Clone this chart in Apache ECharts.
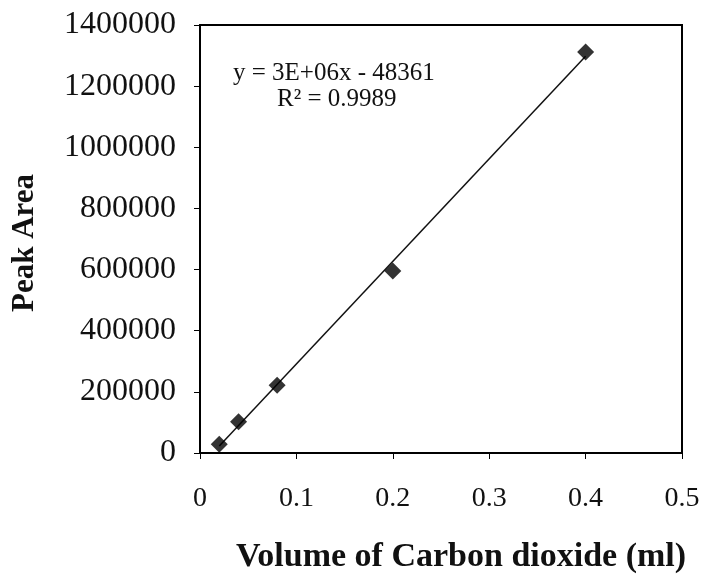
<!DOCTYPE html>
<html>
<head>
<meta charset="utf-8">
<script src="https://cdn.jsdelivr.net/npm/echarts@6/dist/echarts.min.js"></script>
<style>
  html, body { margin: 0; padding: 0; background: #fff; }
  #main { width: 722px; height: 576px; }
</style>
</head>
<body>
<div id="main"></div>
<script>
// volume of CO2 (ml) vs peak area
var volumes = [0.02, 0.04, 0.08, 0.2, 0.4];
var peakAreas = [29000, 102000, 222000, 595000, 1312000];
var xTicks = [0, 0.1, 0.2, 0.3, 0.4, 0.5];
var eqText = 'y = 3E+06x - 48361';
var r2Text = 'R² = 0.9989';

// least squares trendline, drawn over the data range like excel does
function fitLine(xs, ys) {
    var n = xs.length, mx = 0, my = 0, sxx = 0, sxy = 0;
    for (var i = 0; i < n; i++) { mx += xs[i] / n; my += ys[i] / n; }
    for (var i = 0; i < n; i++) {
        sxx += (xs[i] - mx) * (xs[i] - mx);
        sxy += (xs[i] - mx) * (ys[i] - my);
    }
    var k = sxy / sxx;
    return { k: k, b: my - k * mx };
}
var fit = fitLine(volumes, peakAreas);
var xLo = Math.min.apply(null, volumes), xHi = Math.max.apply(null, volumes);
var trend = [[xLo, fit.k * xLo + fit.b], [xHi, fit.k * xHi + fit.b]];

var points = volumes.map(function (v, i) { return [v, peakAreas[i]]; });

var serif = '"Liberation Serif", "Times New Roman", serif';
var chart = echarts.init(document.getElementById('main'));

chart.setOption({
    backgroundColor: '#fff',
    animation: false,
    grid: {
        left: 200, right: 40, top: 25, bottom: 123,
        outerBoundsMode: 'none',
        show: true, borderColor: '#000', borderWidth: 2, backgroundColor: 'transparent'
    },
    xAxis: {
        type: 'value', min: 0, max: 0.5, interval: 0.1,
        name: 'Volume of Carbon dioxide (ml)',
        nameLocation: 'middle', nameGap: 87,
        nameTextStyle: {
            fontFamily: serif, fontWeight: 'bold', fontSize: 34, color: '#111',
            padding: [0, 0, 0, 40]
        },
        axisLine: { show: true, lineStyle: { color: '#000', width: 2 } },
        axisTick: { show: true, length: 6, inside: false, lineStyle: { color: '#000' } },
        splitLine: { show: false },
        axisLabel: {
            margin: 32, fontFamily: serif, fontSize: 28, color: '#111',
            formatter: function (v) {
                var t = xTicks.filter(function (x) { return Math.abs(x - v) < 1e-9; });
                return t.length ? String(t[0]) : '';
            }
        }
    },
    yAxis: {
        type: 'value', min: 0, max: 1400000, interval: 200000,
        name: 'Peak Area',
        nameLocation: 'middle', nameGap: 160, nameRotate: 90,
        nameTextStyle: {
            fontFamily: serif, fontWeight: 'bold', fontSize: 31, color: '#111',
            padding: [0, 8, 0, 0]
        },
        axisLine: { show: true, lineStyle: { color: '#000', width: 2 } },
        axisTick: { show: true, length: 6, lineStyle: { color: '#000' } },
        splitLine: { show: false },
        axisLabel: {
            margin: 24, fontFamily: serif, fontSize: 32, color: '#111',
            formatter: function (v) { return String(v); }
        }
    },
    graphic: [
        {
            type: 'text', left: 233, top: 61,
            style: { text: eqText, font: '25px ' + serif, fill: '#111' }
        },
        {
            type: 'text', left: 277, top: 87,
            style: { text: r2Text, font: '25px ' + serif, fill: '#111' }
        }
    ],
    series: [
        {
            type: 'line', data: trend, symbol: 'none',
            lineStyle: { color: '#111', width: 1.5 }, z: 2
        },
        {
            type: 'scatter', data: points, symbol: 'diamond', symbolSize: 17,
            itemStyle: { color: '#000' }, z: 3
        }
    ]
});
</script>
</body>
</html>
